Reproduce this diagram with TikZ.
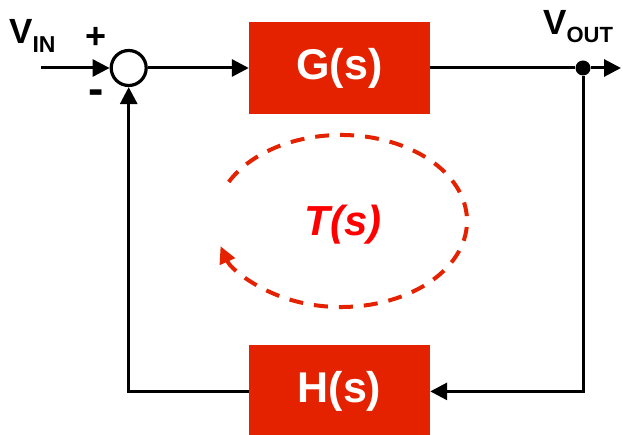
\documentclass[tikz,border=0pt]{standalone}
\usepackage{fontspec}
\setmainfont{Liberation Sans}
\usetikzlibrary{arrows.meta,positioning,calc}
\definecolor{boxred}{RGB}{229,34,0}
\tikzset{
  block/.style={fill=boxred, text=white, minimum width=181pt, minimum height=92pt,
    inner sep=0pt, font=\fontsize{43}{43}\selectfont\bfseries},
  sumnode/.style={draw=black, circle, line width=3.2pt, minimum size=35pt, inner sep=0pt},
  dotnode/.style={circle, fill=black, minimum size=15pt, inner sep=0pt},
  wire/.style={line width=3pt},
  arr/.style={-{Triangle[length=17pt,width=17pt]}, line width=3pt},
  sign/.style={font=\fontsize{36}{36}\selectfont\bfseries, inner sep=0pt},
  tloop/.style={draw=boxred, line width=4pt, dash pattern=on 14pt off 11pt,
    -{Triangle[length=17pt,width=16pt]}}
}

\begin{document}
\begin{tikzpicture}[x=1pt, y=1pt]
  \useasboundingbox (0,0) rectangle (623,434);

  % forward path
  \node[block] (gs) at (339.5,366) {G(s)};
  \node[sumnode, left=101pt of gs] (sum) {};
  \coordinate (vin) at (41,366);
  \node[dotnode] (vout) at (583,366) {};
  \coordinate (outend) at (621,366);

  % feedback block
  \node[block, below=231pt of gs] (hs) {H(s)};

  \draw[arr] (vin) -- (sum);
  \draw[arr] (sum) -- (gs);
  \draw[wire] (gs) -- (vout);
  \draw[arr] (vout) -- (outend);
  \draw[arr] (vout) |- (hs);
  \draw[arr] (hs) -| (sum);

  % labels
  \node[anchor=base west, inner sep=0pt] (vinlabel) at (9,390)
    {\fontsize{35}{35}\selectfont\bfseries V\raisebox{-9pt}{\fontsize{23}{23}\selectfont IN}};
  \node[anchor=base west, inner sep=0pt] (voutlabel) at (543,399)
    {\fontsize{35}{35}\selectfont\bfseries V\raisebox{-8pt}{\fontsize{22}{22}\selectfont OUT}};
  \node[sign] (plus) at (96,396) {+};
  \node[sign, font=\fontsize{46}{46}\selectfont\bfseries] (minus) at (96,337) {-};

  % loop gain
  \coordinate (ell) at (341,213);
  \draw[tloop] (ell) ++(153:126pt and 86pt)
    arc[start angle=153, end angle=-163, x radius=126pt, y radius=86pt];
  \node[text=red, font=\fontsize{42}{42}\selectfont\bfseries\itshape] (tlabel) at (343,209) {T(s)};
\end{tikzpicture}
\end{document}
